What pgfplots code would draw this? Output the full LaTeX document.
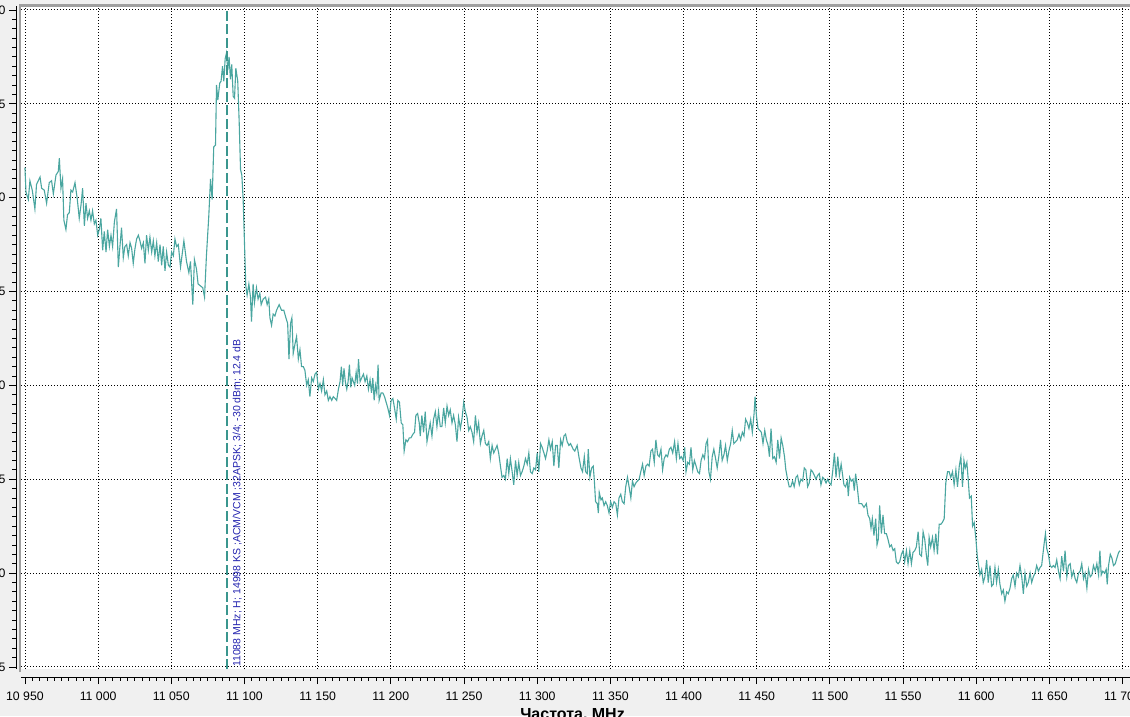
\documentclass[border=0pt]{standalone}
\usepackage{fontspec}
\setmainfont{Liberation Sans}
\usepackage{pgfplots}
\pgfplotsset{compat=1.18}

\definecolor{bgcol}{HTML}{F0F0F0}
\definecolor{tracecol}{HTML}{4AA6A0}
\definecolor{markcol}{HTML}{3A968E}
\definecolor{marklabel}{HTML}{2424B0}
\definecolor{framecol}{HTML}{A0A0A0}

\begin{document}
\begin{tikzpicture}[x=1pt,y=1pt]
\fill[bgcol] (0,0) rectangle (1130,716);
\begin{axis}[
  at={(21pt,47pt)}, anchor=south west,
  scale only axis, width=1109pt, height=663pt,
  xmin=10947.3, xmax=11705.1, ymin=-65.11, ymax=-29.79,
  axis x line=bottom, axis y line=left,
  axis x line shift=8pt, axis y line shift=5pt,
  x axis line style={-, line width=0.8pt}, y axis line style={-, line width=0.8pt},
  hide obscured x ticks=false, hide obscured y ticks=false,
  axis background/.style={fill=white},
  xtick={10950,11000,...,11700}, ytick={-65,-60,...,-30},
  scaled x ticks=false, scaled y ticks=false,
  minor x tick num=9, minor y tick num=9,
  tick align=outside, major tick length=7pt, minor tick length=3.5pt,
  tick style={black, line width=0.8pt},
  grid=major,
  major grid style={black, line width=0.9pt, dash pattern=on 0.9pt off 2.1pt},
  ticklabel style={font=\fontsize{12.3}{14}\selectfont},
  xticklabel style={yshift=-4pt},
  /pgf/number format/assume math mode=true,
  /pgf/number format/1000 sep={\ },
  xlabel={Частота, MHz},
  xlabel style={font=\bfseries\fontsize{16}{19}\selectfont, at={(axis description cs:0.5,0)}, anchor=north, yshift=-39pt, xshift=-3pt, inner sep=0pt},
]
% spectrum trace
\addplot[tracecol, line width=1.1pt] coordinates {
(10950,-38.4) (10950.7,-39.7) (10952.3,-40.1) (10953.4,-39.1) (10955,-39.6) (10956.8,-40.6) (10957.9,-39.3) (10960.3,-38.9) (10961.4,-39.5) (10963.2,-39.6) (10964.8,-40.3) (10966.6,-39.2) (10968.2,-39.1) (10969.4,-39.8) (10971.2,-38.8) (10972.8,-38.6) (10973.5,-37.9) (10974.6,-39.5) (10975.7,-39.0) (10976.6,-41.2) (10978,-41.7) (10979.1,-40.9) (10980.3,-40.8) (10981.4,-39.6) (10982.6,-39.7) (10984.2,-39.2) (10985.8,-40.1) (10987.1,-41.1) (10988.3,-40.4) (10989.4,-39.5) (10990.6,-41.5) (10991.7,-40.3) (10992.8,-41.1) (10994,-40.7) (10995.1,-41.2) (10996.2,-40.7) (10997.4,-41.4) (10998.5,-41.2) (10999.7,-42.0) (11000.8,-41.7) (11001.9,-41.1) (11003.1,-42.8) (11004.2,-41.8) (11005.4,-42.9) (11006.5,-41.7) (11007.7,-42.6) (11008.8,-42.0) (11009.9,-42.6) (11011.1,-41.3) (11012.6,-40.6) (11013.8,-43.7) (11014.9,-42.6) (11016,-41.6) (11017.2,-43.2) (11018.3,-42.6) (11019.5,-42.5) (11020.6,-43.1) (11021.8,-42.4) (11022.9,-42.7) (11024,-43.5) (11025.2,-42.7) (11026.3,-42.2) (11027.5,-42.0) (11028.6,-42.3) (11029.7,-42.7) (11030.9,-42.4) (11032,-43.5) (11033.1,-42.0) (11034.3,-42.8) (11035.4,-42.1) (11036.6,-42.9) (11037.7,-42.3) (11038.8,-43.1) (11040,-42.4) (11041.1,-43.4) (11042.3,-42.5) (11043.4,-43.6) (11044.5,-42.6) (11045.7,-43.9) (11046.8,-42.9) (11048,-43.6) (11049.1,-43.7) (11050.2,-42.9) (11051.4,-43.1) (11052.5,-42.2) (11053.6,-42.6) (11054.8,-42.5)
(11056.3,-43.7) (11058.6,-42.3) (11060.4,-43.4) (11062,-44.0) (11063.1,-43.4) (11064.7,-45.7) (11065.8,-43.3) (11067.2,-43.8) (11068.3,-44.6) (11069.9,-44.7) (11071.5,-44.8) (11072.7,-45.3) (11074,-43.1) (11075.6,-41.0) (11076.8,-39.0) (11077.9,-40.1) (11079,-37.3) (11080.2,-37.2) (11080.9,-34.0) (11081.8,-34.8) (11083.1,-33.9) (11084,-33.8) (11085,-33.0) (11085.9,-33.8) (11086.8,-32.6) (11087.7,-32.3) (11088.6,-33.2) (11089.5,-32.5) (11090.4,-33.7) (11091.3,-32.9) (11092.3,-34.6) (11093.2,-34.7) (11094.1,-33.1) (11095.4,-33.8) (11096.4,-36.0) (11097.3,-38.5) (11098.2,-38.8) (11099.1,-40.1) (11100,-42.4) (11100.9,-44.7) (11101.8,-45.2) (11103,-44.6) (11104.1,-45.3) (11104.8,-46.6) (11105.9,-44.6) (11106.8,-45.6) (11108.2,-44.8) (11109.3,-45.4) (11110.5,-45.1) (11111.4,-45.7) (11112.8,-45.4) (11114.4,-45.3) (11115.5,-45.7) (11116.6,-45.4)
(11117.4,-46.4) (11118.5,-46.8) (11119.6,-46.2) (11120.8,-46.3) (11121.9,-46.0) (11123.7,-45.7) (11125.3,-46.0) (11126.9,-46.0) (11128.3,-46.4) (11129.5,-46.7) (11130.4,-48.6) (11131.5,-46.7) (11132.4,-46.4) (11133.3,-48.3) (11134.5,-47.8) (11135.6,-47.4) (11136.8,-48.6) (11137.9,-48.1) (11139,-49.0) (11140.2,-49.0) (11141.3,-49.2) (11142.5,-50.0) (11143.6,-49.7) (11144.7,-50.6) (11145.9,-49.6) (11147,-49.8) (11148.2,-49.4) (11149.3,-49.3) (11150.5,-50.2) (11151.6,-49.9) (11152.7,-50.3) (11153.9,-49.7) (11155,-50.5) (11156.2,-50.3) (11157.3,-50.8) (11158.4,-50.6) (11159.6,-50.8) (11160.7,-50.6) (11161.9,-50.7) (11163,-50.8) (11164.2,-50.2) (11165.3,-49.8) (11166.2,-49.0) (11167.1,-50.0) (11168,-49.1) (11168.9,-49.8) (11169.9,-50.2) (11170.8,-49.8) (11171.7,-48.9) (11172.6,-50.1) (11173.5,-49.6) (11174.4,-49.8) (11175.3,-50.0) (11176.3,-49.3) (11177.2,-49.9) (11177.9,-48.6) (11179,-49.8) (11180.1,-49.6) (11181.3,-49.4) (11182.4,-49.8) (11183.6,-49.5) (11184.7,-50.2) (11185.8,-49.7) (11186.8,-50.4) (11187.7,-49.6) (11188.6,-50.8) (11189.5,-50.0) (11190.4,-50.4) (11191.3,-48.9) (11192,-50.8) (11193.4,-50.4) (11194.5,-50.4) (11195.7,-50.6) (11196.8,-50.9) (11197.9,-51.2) (11199.1,-51.6) (11200.2,-50.8) (11201.4,-50.7) (11202.5,-51.2) (11203.7,-51.8) (11204.8,-50.8) (11205.9,-50.9) (11207.1,-52.0) (11208.2,-52.1) (11209.1,-53.5) (11210.3,-52.9) (11211.4,-53.0) (11212.6,-52.8) (11213.7,-52.8) (11215.1,-52.6) (11216.2,-52.5) (11217.1,-51.6) (11218.3,-51.5) (11219.4,-52.0) (11220.1,-52.7) (11221.2,-51.6) (11222.4,-52.5) (11223.5,-51.4) (11224.7,-53.0) (11225.8,-52.5) (11226.9,-52.0) (11228.1,-52.7) (11229.2,-51.8) (11230.4,-51.4) (11231.5,-52.2) (11232.6,-51.4) (11233.8,-52.2) (11234.9,-52.2) (11236.1,-51.2) (11237.2,-52.0) (11238.4,-51.1) (11239.5,-51.6) (11240.6,-51.3) (11241.8,-52.0) (11242.9,-51.6) (11244.1,-52.1) (11245.2,-53.0) (11246.3,-51.7) (11247.5,-52.3) (11248.6,-51.8) (11249.8,-50.9) (11250.9,-51.4) (11252.1,-51.7) (11253.2,-52.4) (11254.3,-52.2) (11255.5,-52.5) (11256.6,-53.0) (11257.8,-51.6) (11258.9,-52.5) (11260,-52.0) (11261.2,-53.1) (11262.3,-52.7) (11263.5,-52.4) (11264.6,-53.1) (11265.8,-53.2) (11266.9,-53.0) (11268,-53.9) (11269.2,-53.2) (11270.3,-53.6) (11271.5,-53.4) (11272.6,-53.2) (11273.7,-53.6) (11274.9,-54.3) (11276,-54.9) (11277.2,-54.8) (11278.3,-55.0) (11279.5,-53.9) (11280.6,-54.7) (11281.7,-53.9) (11282.9,-54.6) (11284,-55.3) (11285.2,-54.0) (11286.3,-54.8) (11287.4,-54.1) (11288.6,-54.8) (11289.7,-54.6) (11290.9,-54.3) (11292,-53.9) (11293.2,-54.2) (11294.3,-53.6) (11295.4,-54.6) (11296.6,-54.7) (11297.7,-54.4) (11298.9,-54.5) (11300,-53.6) (11301.1,-54.6) (11302.3,-53.1) (11303.4,-53.3) (11304.6,-53.6) (11305.7,-53.9) (11306.8,-53.5) (11308,-52.9) (11309.1,-53.4) (11310.3,-53.0) (11311.4,-54.3) (11312.6,-53.2) (11313.7,-53.2) (11314.8,-54.4) (11316,-52.9) (11317.1,-53.2) (11318.3,-52.7) (11319.4,-52.6) (11320.5,-53.0) (11321.7,-53.2) (11322.8,-53.1)
(11324.6,-53.4) (11325.7,-53.5) (11327.3,-53.2) (11328.5,-53.8) (11329.9,-54.4) (11331,-54.6) (11332.2,-53.8) (11333.1,-54.6) (11334.2,-54.7) (11334.9,-53.4) (11336,-54.9) (11337.2,-54.4) (11338.3,-54.3) (11339,-55.0) (11339.9,-56.2) (11341.1,-56.3) (11341.8,-56.8) (11342.4,-55.7) (11343.6,-56.1) (11344.5,-56.0) (11345.7,-56.4) (11346.8,-56.2) (11347.9,-56.4) (11349.1,-56.8) (11350.2,-56.2) (11351.4,-56.5) (11352.5,-56.2) (11353.7,-56.3) (11354.8,-56.9) (11355.9,-56.0) (11357.1,-55.8) (11358.2,-56.2) (11359.4,-56.3) (11360.5,-55.4) (11361.7,-54.9) (11362.8,-55.4) (11364,-56.0) (11365.1,-55.1) (11366.2,-55.4) (11367.4,-55.2) (11368.5,-55.1) (11369.7,-55.0) (11370.8,-54.6) (11372,-54.2) (11373.1,-54.8) (11374.3,-54.3) (11375.4,-54.2) (11376.5,-54.3) (11377.7,-53.5) (11378.8,-53.4) (11380,-54.1) (11381.1,-52.9) (11382.3,-53.7) (11383.4,-53.8) (11384.6,-53.4) (11385.7,-54.5) (11386.8,-53.9) (11388,-53.7) (11389.1,-53.8) (11390.3,-53.4) (11391.4,-53.3) (11392.6,-53.6) (11393.9,-53.0) (11395.1,-53.9) (11396.2,-53.1) (11397.4,-53.9) (11398.5,-53.8) (11399.7,-54.0) (11400.8,-53.3) (11401.7,-54.6) (11402.9,-54.1) (11404,-54.2) (11405.1,-53.3) (11406.3,-54.5) (11407.4,-54.0) (11408.6,-54.3) (11409.7,-54.6) (11410.9,-54.7) (11412,-54.0) (11413.2,-53.7) (11414.3,-53.9) (11415.4,-53.1) (11416.4,-52.9) (11417.3,-54.6) (11418.4,-55.0) (11419.6,-53.8) (11420.7,-53.4) (11421.9,-53.9) (11423,-54.4) (11424.1,-53.8) (11425.3,-52.9) (11426.4,-54.0) (11427.6,-53.7) (11428.7,-53.2) (11429.9,-54.0) (11431,-53.5) (11432.2,-53.1) (11433.3,-52.4) (11434.4,-53.1) (11435.6,-53.0) (11436.7,-52.9) (11437.9,-52.6) (11439,-52.9) (11440.2,-52.5) (11441.3,-52.7) (11442.4,-51.8) (11443.6,-52.0) (11444.7,-52.3) (11445.9,-51.8) (11447,-52.5) (11448.2,-51.5) (11448.9,-50.6) (11449.8,-51.6) (11450.9,-52.3) (11452.1,-52.4) (11453.2,-52.5) (11454.3,-53.1) (11455.5,-52.4) (11456.6,-52.9) (11457.8,-53.2) (11458.7,-53.8) (11459.8,-52.3) (11461,-53.9) (11462.1,-53.8) (11463.3,-54.1) (11464.4,-52.9) (11465.6,-53.9) (11466.7,-52.8) (11467.8,-53.2) (11469,-53.8) (11469.9,-54.5) (11471.1,-55.0) (11472.2,-55.4) (11473.3,-55.4) (11474.5,-55.1) (11475.6,-55.4) (11476.8,-54.9) (11477.9,-54.8) (11479.1,-55.3) (11480.2,-55.0) (11481.4,-55.1) (11482.5,-54.4) (11483.6,-54.5) (11484.8,-55.4) (11485.9,-55.2) (11487.1,-54.5) (11488.2,-54.6) (11489.4,-54.8) (11490.5,-55.0) (11491.6,-54.8) (11492.8,-54.7) (11493.9,-55.3) (11495.1,-54.9) (11496.2,-55.0) (11497.4,-55.2) (11498.5,-55.0) (11499.7,-55.2) (11500.8,-55.3) (11501.9,-54.6) (11503.1,-53.6) (11504.2,-54.9) (11505.4,-53.8) (11506.5,-54.8) (11507.7,-54.2)
(11509.6,-55.3) (11510.7,-55.4) (11511.9,-55.1) (11512.6,-55.9) (11513.5,-54.9) (11514.6,-55.1) (11515.8,-55.0) (11516.7,-55.6) (11517.6,-54.7) (11518.7,-55.4) (11519.9,-56.3) (11521.7,-56.3) (11523.3,-56.5) (11524.9,-56.3) (11526,-56.9) (11527.2,-57.1) (11528.1,-57.6) (11529,-57.1) (11530.1,-58.0) (11531.3,-57.1) (11532.2,-58.5) (11533.1,-58.2) (11534,-56.4) (11535.2,-57.9) (11536.3,-56.9) (11537.4,-57.9) (11538.6,-57.9) (11539.7,-58.2) (11540.9,-58.6) (11542,-58.5) (11543.2,-58.8) (11544.3,-58.7) (11545.4,-59.4) (11546.6,-59.5) (11547.7,-59.4) (11548.9,-59.0) (11550,-58.8) (11551.1,-59.4) (11552.3,-58.8) (11553.4,-59.5) (11554.6,-58.8) (11555.7,-59.5) (11556.8,-58.9) (11558,-58.8) (11559.1,-58.6) (11560.3,-57.8) (11561.4,-59.0) (11562.6,-59.1) (11563.7,-57.8) (11564.8,-58.2) (11566,-59.1) (11566.9,-59.6) (11567.8,-58.1) (11568.9,-58.6) (11570.1,-58.1) (11571.2,-58.8) (11572.4,-57.9) (11573.5,-59.0) (11574.7,-57.4) (11575.8,-57.4) (11576.9,-57.3) (11578.1,-57.1) (11579.2,-55.2) (11580.4,-54.6) (11581.5,-54.6) (11582.6,-54.9) (11583.8,-54.6) (11584.9,-55.3) (11586.1,-54.5) (11587.2,-55.4) (11588.4,-54.3) (11589.5,-53.8) (11590.6,-55.4) (11591.6,-54.0) (11592.5,-54.4) (11593.6,-54.1) (11594.5,-55.0) (11595.4,-56.0) (11596.6,-55.9) (11597.5,-57.5) (11598.6,-57.3) (11599.8,-58.2) (11600.7,-59.1) (11601.6,-59.6) (11602.5,-60.1) (11603.7,-59.8) (11604.8,-60.5) (11605.9,-60.2) (11607.1,-59.3) (11608.2,-60.5) (11609.4,-59.6) (11610.5,-60.7) (11611.6,-60.6) (11612.8,-59.7) (11613.9,-60.5) (11615.1,-59.8) (11616.2,-60.6) (11617.4,-61.1) (11618.5,-60.9) (11619.6,-61.5) (11620.8,-61.0) (11621.9,-61.1) (11623.1,-60.8) (11624.2,-60.3) (11625.3,-60.1) (11626.5,-60.7) (11627.6,-60.0) (11628.8,-60.2) (11629.9,-59.6) (11631.1,-60.2) (11632.2,-61.1) (11633.3,-60.0) (11634.5,-60.7) (11635.6,-60.5) (11636.8,-60.0) (11637.9,-60.5) (11639,-60.2) (11640.2,-60.0) (11641.3,-59.6) (11642.5,-59.9) (11643.6,-59.7) (11644.7,-59.6) (11645.7,-58.9) (11646.6,-58.3) (11647.3,-57.9) (11648.2,-58.7) (11649.3,-59.0) (11650.5,-59.6) (11651.6,-59.7) (11652.7,-59.6) (11653.9,-59.7) (11655,-59.3) (11656.2,-59.9) (11657.3,-60.3) (11658.4,-59.1) (11659.6,-59.9) (11660.7,-58.8) (11661.9,-60.2) (11663,-59.6) (11664.2,-59.5) (11665.3,-60.2) (11666.4,-59.9) (11667.6,-60.3) (11668.7,-60.5) (11669.9,-60.0) (11671,-59.9) (11672.1,-59.5) (11673.3,-60.3) (11674.4,-60.0) (11675.6,-60.8) (11676.7,-59.8) (11677.9,-60.2) (11679,-60.1) (11680.1,-59.6) (11681.3,-59.9) (11682.4,-59.5) (11683.6,-60.1) (11684.5,-58.8) (11685.4,-60.1) (11686.5,-59.9) (11687.7,-60.0) (11688.8,-59.8) (11689.5,-60.6) (11690.4,-59.6) (11691.6,-59.0) (11692.7,-59.2) (11693.8,-59.6) (11695,-59.5) (11696.1,-59.2) (11697.3,-58.9) (11698.4,-58.8)
};
% carrier marker
\addplot[markcol, line width=2.4pt, dash pattern=on 10pt off 3.5pt] coordinates {(11088,-65.11) (11088,-29.79)};
\node[rotate=90, anchor=north west, inner sep=0pt, text=marklabel, font=\fontsize{10.5}{12}\selectfont]
  at (axis cs:11091.8,-65.0) {11088 MHz; H; 14998 KS ;ACM/VCM ;32APSK; 3/4; -30 dBm; 12.4 dB};
\end{axis}
% plot frame (left and top)
\draw[framecol, line width=2.5pt] (20,44) -- (20,710.5) -- (1130,710.5);
\pgfresetboundingbox
\useasboundingbox (0,0) rectangle (1130,716);
\end{tikzpicture}
\end{document}
